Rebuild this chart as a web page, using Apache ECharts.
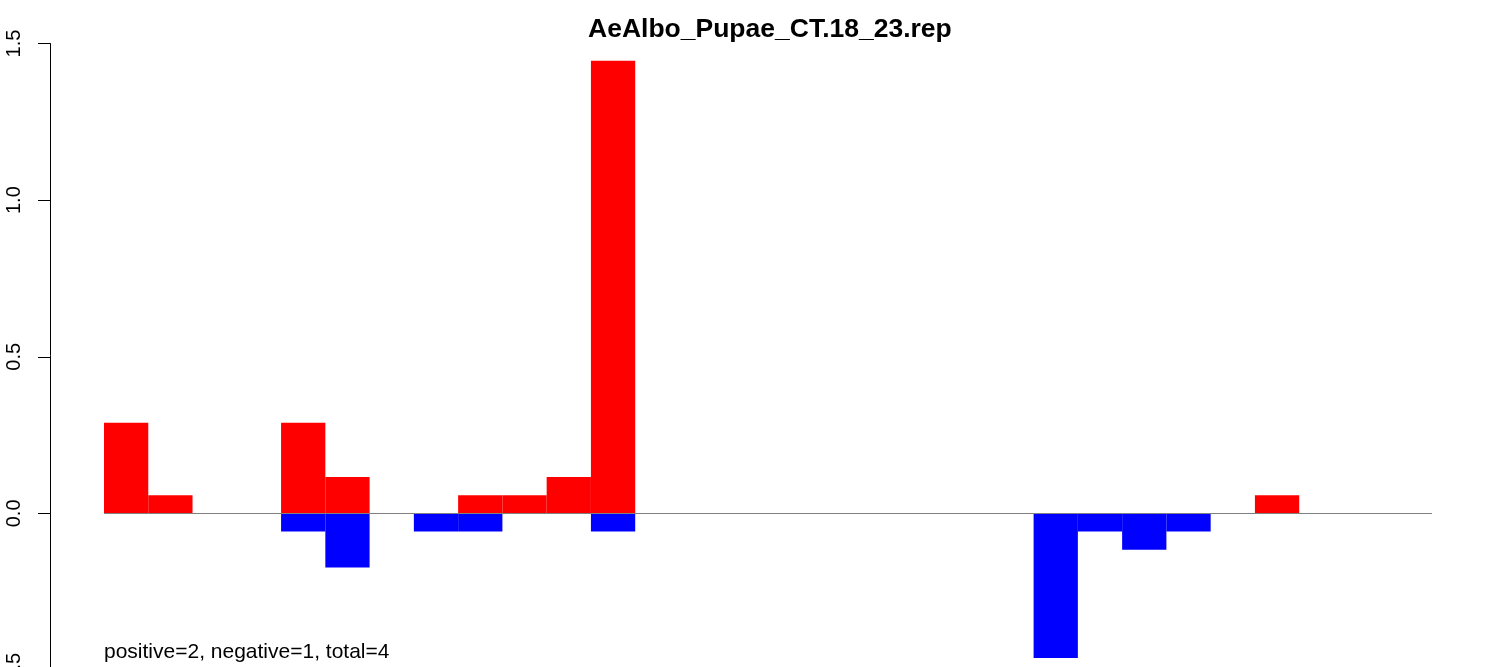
<!DOCTYPE html>
<html>
<head>
    <meta charset="utf-8">
    <title></title>
    <script type="text/javascript" src="https://cdn.jsdelivr.net/npm/echarts@6/dist/echarts.min.js"></script>
    <style>
        body { margin: 0; background: #fff; }
    </style>
</head>
<body>
<div id="main" style="width: 1496px;height:667px;"></div>
<script type="text/javascript">
    // 30 bins, one red (positive) and one blue (negative) value each
    var bins = [];
    for (var i = 1; i <= 30; i++) bins.push(String(i));

    var positive = [0.289, 0.058, 0, 0, 0.289, 0.116, 0, 0, 0.058, 0.058,
        0.116, 1.445, 0, 0, 0, 0, 0, 0, 0, 0,
        0, 0, 0, 0, 0, 0, 0.058, 0, 0, 0];
    var negative = [0, 0, 0, 0, -0.058, -0.173, 0, -0.058, -0.058, 0,
        0, -0.058, 0, 0, 0, 0, 0, 0, 0, 0,
        0, -0.462, -0.058, -0.116, -0.058, 0, 0, 0, 0, 0];

    var yTicks = [-0.5, 0, 0.5, 1, 1.5];

    var myChart = echarts.init(document.getElementById('main'));

    var option = {
        animation: false,
        title: {
            text: 'AeAlbo_Pupae_CT.18_23.rep',
            left: 583,
            top: 11,
            textStyle: {
                fontFamily: 'Liberation Sans',
                fontWeight: 'bold',
                fontSize: 26.5,
                color: '#000'
            }
        },
        graphic: [{
            type: 'text',
            left: 104,
            top: 642,
            style: {
                text: 'positive=2, negative=1, total=4',
                font: '21px "Liberation Sans"',
                fill: '#000'
            }
        }],
        grid: {
            left: 104,
            right: 64,
            top: 43.5,
            height: 626.5,
            outerBoundsMode: 'none',
            containLabel: false
        },
        xAxis: {
            type: 'category',
            data: bins,
            boundaryGap: true,
            axisLine: {show: false},
            axisTick: {show: false},
            axisLabel: {show: false}
        },
        yAxis: {
            type: 'value',
            min: yTicks[0],
            max: yTicks[yTicks.length - 1],
            interval: 0.5,
            offset: 54,
            splitLine: {show: false},
            axisLine: {show: true, lineStyle: {color: '#000', width: 1}},
            axisTick: {show: true, length: 12, lineStyle: {color: '#000'}},
            axisLabel: {
                rotate: 90,
                margin: 26,
                fontSize: 20,
                fontFamily: 'Liberation Sans',
                color: '#000',
                formatter: function (v) { return v.toFixed(1); }
            }
        },
        series: [{
            name: 'positive',
            type: 'bar',
            data: positive,
            barWidth: '100%',
            barGap: '-100%',
            itemStyle: {color: '#ff0000'},
            markLine: {
                silent: true,
                symbol: 'none',
                label: {show: false},
                lineStyle: {color: '#808080', width: 1, type: 'solid'},
                data: [{yAxis: 0}]
            }
        }, {
            name: 'negative',
            type: 'bar',
            data: negative,
            barWidth: '100%',
            barGap: '-100%',
            itemStyle: {color: '#0000ff'}
        }]
    };

    myChart.setOption(option);
</script>
</body>
</html>
